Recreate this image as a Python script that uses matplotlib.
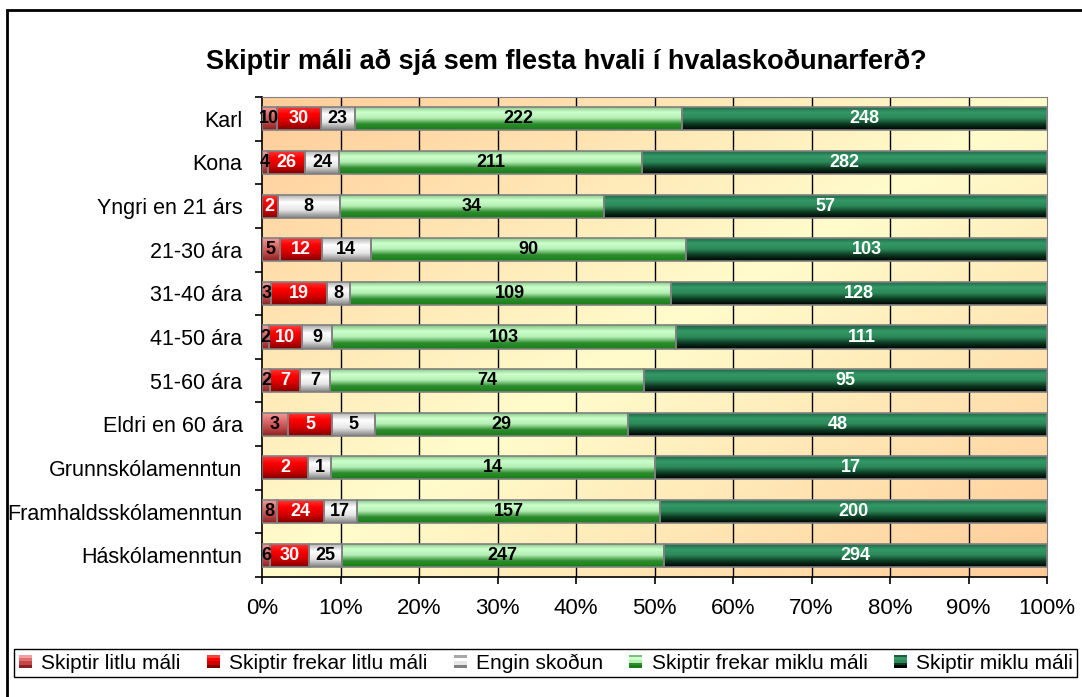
import numpy as np
import matplotlib
matplotlib.use("Agg")
import matplotlib.pyplot as plt
from matplotlib.colors import to_rgb
from matplotlib.patches import Patch, Rectangle
from matplotlib.legend_handler import HandlerBase

plt.rcParams['font.family'] = ['Liberation Sans', 'DejaVu Sans']

# gögn
flokkar = ["Karl", "Kona", "Yngri en 21 árs", "21-30 ára", "31-40 ára", "41-50 ára",
           "51-60 ára", "Eldri en 60 ára", "Grunnskólamenntun",
           "Framhaldsskólamenntun", "Háskólamenntun"]
litlu = [10, 4, 0, 5, 3, 2, 2, 3, 0, 8, 6]
frekar_litlu = [30, 26, 2, 12, 19, 10, 7, 5, 2, 24, 30]
engin = [23, 24, 8, 14, 8, 9, 7, 5, 1, 17, 25]
frekar_miklu = [222, 211, 34, 90, 109, 103, 74, 29, 14, 157, 247]
miklu = [248, 282, 57, 103, 128, 111, 95, 48, 17, 200, 294]
nofn = ["Skiptir litlu máli", "Skiptir frekar litlu máli", "Engin skoðun",
        "Skiptir frekar miklu máli", "Skiptir miklu máli"]
xtick_labels = ["0%", "10%", "20%", "30%", "40%", "50%", "60%", "70%", "80%", "90%", "100%"]

# litir (ofan -> neðan)
litir = [
    ['#F4A0A0', '#E07070', '#C04848', '#8C2020'],
    ['#FF4040', '#FF0000', '#D00000', '#800000'],
    ['#A8A8A8', '#FFFFFF', '#E6E6E6', '#808080'],
    ['#7CC07C', '#CCFFCC', '#B4EEB4', '#2E8B2E', '#168016'],
    ['#1E5E40', '#339966', '#2C8858', '#0C3A22', '#000000'],
]
texti_litur = ['black', 'white', 'black', 'black', 'white']


def grad(stops, n=64):
    c = np.array([to_rgb(s) for s in stops])
    t = np.linspace(0, 1, n)
    pos = np.linspace(0, 1, len(stops))
    arr = np.stack([np.interp(t, pos, c[:, k]) for k in range(3)], axis=-1)
    return arr[:, None, :]


class GradHandler(HandlerBase):
    def __init__(self, stops):
        super().__init__()
        self.stops = stops

    def create_artists(self, legend, orig_handle, xdescent, ydescent, width, height, fontsize, trans):
        s = height * 0.9
        x0 = -xdescent + (width - s) / 2
        y0 = -ydescent + (height - s) / 2
        n = len(self.stops)
        out = []
        for k, c in enumerate(self.stops):
            r = Rectangle((x0, y0 + s * (n - 1 - k) / n), s, s / n, facecolor=c,
                          edgecolor='none', transform=trans)
            out.append(r)
        return out


W, H = 1082, 697
fig = plt.figure(figsize=(W / 100, H / 100), dpi=100)
ax = fig.add_axes([262 / W, 1 - 577 / H, (1047 - 262) / W, (577 - 97) / H])

n = len(flokkar)
y = np.arange(n)[::-1]
gildi = np.array([litlu, frekar_litlu, engin, frekar_miklu, miklu], dtype=float)
hlutf = gildi / gildi.sum(axis=0)
h = 0.53

# bakgrunnur
ny, nx = 200, 300
xx, yy = np.meshgrid(np.linspace(0, 1, nx), np.linspace(0, 1, ny))
s = np.abs(xx + yy - 1)[..., None]
gul = np.array(to_rgb('#FFFCCC'))
app = np.array(to_rgb('#FFCC99'))
bg = gul * (1 - s) + app * s
ax.imshow(bg, extent=[0, 1, 0, 1], transform=ax.transAxes, aspect='auto', zorder=0)

for xv in np.arange(0.1, 1.0, 0.1):
    ax.axvline(xv, color='black', lw=1, zorder=1)

vinstri = np.zeros(n)
for j in range(5):
    g = grad(litir[j])
    bars = ax.barh(y, hlutf[j], height=h, left=vinstri, facecolor='none',
                   edgecolor='#808080', lw=1.2, zorder=3)
    for i, b in enumerate(bars):
        if gildi[j, i] == 0:
            b.set_visible(False)
            continue
        im = ax.imshow(g, extent=[vinstri[i], vinstri[i] + hlutf[j, i], y[i] - h / 2, y[i] + h / 2],
                       aspect='auto', interpolation='bilinear', zorder=2)
        im.set_clip_path(b)
        ax.text(vinstri[i] + hlutf[j, i] / 2, y[i], "%d" % gildi[j, i], ha='center', va='center',
                fontsize=13, fontweight='bold', color=texti_litur[j], zorder=4)
    vinstri = vinstri + hlutf[j]

ax.set_xlim(0, 1)
ax.set_ylim(-0.5, n - 0.5)
ax.set_xticks(np.linspace(0, 1, 11))
ax.set_xticklabels(xtick_labels, fontsize=16)
ax.set_yticks(y)
ax.set_yticklabels(flokkar, fontsize=15.5)
ax.set_yticks(np.arange(n + 1) - 0.5, minor=True)
ax.tick_params(axis='y', which='major', length=0, pad=14)
ax.tick_params(axis='y', which='minor', length=5, width=1.2, color='black')
ax.tick_params(axis='x', length=5, width=1.2, pad=10)
for sp in ['top', 'right']:
    ax.spines[sp].set_color('#808080')
for sp in ['left', 'bottom']:
    ax.spines[sp].set_color('black')
    ax.spines[sp].set_linewidth(1.2)

fig.text(566 / W, 1 - 62 / H, "Skiptir máli að sjá sem flesta hvali í hvalaskoðunarferð?",
         ha='center', va='center', fontsize=19.5, fontweight='bold')

handles = [Patch(facecolor=litir[j][1], label=nofn[j]) for j in range(5)]
hmap = {handles[j]: GradHandler(litir[j]) for j in range(5)}
leg = fig.legend(handles=handles, handler_map=hmap, loc='center', ncol=5, mode='expand',
                 bbox_to_anchor=(14 / W, 1 - 678 / H, (1077 - 14) / W, 30 / H),
                 borderaxespad=0, fontsize=15, handlelength=0.7, handletextpad=0.4,
                 fancybox=False, edgecolor='black', framealpha=1, borderpad=0.2)
leg.get_frame().set_linewidth(1)

fig.patches.append(Rectangle((7 / W, -0.1), 1.2, 1.1 - 10 / H, transform=fig.transFigure,
                             fill=False, edgecolor='black', lw=2))

fig.savefig("out.png", dpi=100)
